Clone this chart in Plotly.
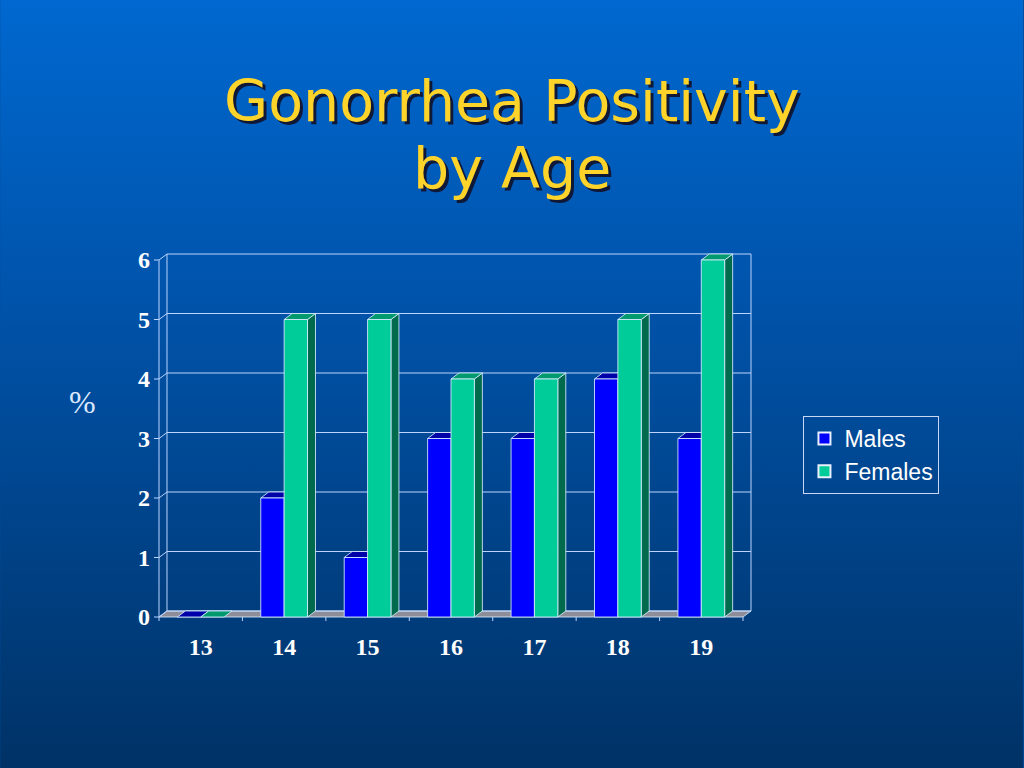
import base64
import plotly.graph_objects as go

# ---------------- data ----------------
ages = ["13", "14", "15", "16", "17", "18", "19"]
males = [0, 2, 1, 3, 3, 4, 3]
females = [0, 5, 5, 4, 4, 5, 6]
y_ticks = [0, 1, 2, 3, 4, 5, 6]
series_names = ["Males", "Females"]
title_lines = ["Gonorrhea Positivity", "by Age"]
y_label = "%"

# ---------------- styling / geometry ----------------
W, H = 1024, 768
UX, UY = 83.5, 59.5            # pixels per data unit
DX, DY = 8 / UX, 6 / UY         # 3-D depth offset in data units
BW = 0.28                       # bar width in category units
n = len(ages)
ymax = max(y_ticks)

x_lo = -0.5 - 6 / UX
x_hi = n - 0.5 + DX + 3 / UX
y_lo = -5 / UY
y_hi = ymax + DY + 3 / UY
left_px = 159 - 6
plot_w = (x_hi - x_lo) * UX
bottom_px = 617 + 5
plot_h = (y_hi - y_lo) * UY
M_L = left_px
M_R = W - left_px - plot_w
M_B = H - bottom_px
M_T = bottom_px - plot_h

EDGE = "rgba(215,235,255,0.85)"
WALL = "#bcd4ff"
colors = {
    "Males": dict(front="#0000FF", top="#0000A8", side="#00007A"),
    "Females": dict(front="#00CC99", top="#009A6E", side="#006A4C"),
}


def poly_path(polys):
    xs, ys = [], []
    for p in polys:
        for (a, b) in p + [p[0]]:
            xs.append(a)
            ys.append(b)
        xs.append(None)
        ys.append(None)
    return xs, ys


def seg_path(segs):
    xs, ys = [], []
    for (a, b), (c, d) in segs:
        xs += [a, c, None]
        ys += [b, d, None]
    return xs, ys


fig = go.Figure()

# floor
fx, fy = poly_path([[(-0.5, 0), (n - 0.5, 0), (n - 0.5 + DX, DY), (-0.5 + DX, DY)]])
fig.add_trace(go.Scatter(x=fx, y=fy, mode="lines", fill="toself", fillcolor="#8e8e98",
                         line=dict(color=EDGE, width=1), hoverinfo="skip", showlegend=False))

# walls and grid
segs = []
for k in y_ticks:
    segs.append(((-0.5 + DX, k + DY), (n - 0.5 + DX, k + DY)))      # back gridline
    segs.append(((-0.5, k), (-0.5 + DX, k + DY)))                    # left wall diagonal
    segs.append(((-0.5, k), (-0.5 - 5 / UX, k)))                     # y tick
segs.append(((-0.5 + DX, DY), (-0.5 + DX, ymax + DY)))
segs.append(((n - 0.5 + DX, DY), (n - 0.5 + DX, ymax + DY)))
segs.append(((-0.5, 0), (-0.5, ymax)))
for j in range(n + 1):
    segs.append(((j - 0.5, 0), (j - 0.5, -4 / UY)))                  # x ticks
wx, wy = seg_path(segs)
fig.add_trace(go.Scatter(x=wx, y=wy, mode="lines", line=dict(color=WALL, width=1),
                         hoverinfo="skip", showlegend=False))

# bars (3-D: side, top, front)
for name, vals, off in [("Males", males, -BW), ("Females", females, 0.0)]:
    sides, tops, fronts = [], [], []
    for i, v in enumerate(vals):
        x0 = i + off
        x1 = x0 + BW
        tops.append([(x0, v), (x1, v), (x1 + DX, v + DY), (x0 + DX, v + DY)])
        if v > 0:
            sides.append([(x1, 0), (x1, v), (x1 + DX, v + DY), (x1 + DX, DY)])
            fronts.append([(x0, 0), (x1, 0), (x1, v), (x0, v)])
    c = colors[name]
    for polys, col in [(sides, c["side"]), (tops, c["top"]), (fronts, c["front"])]:
        px_, py_ = poly_path(polys)
        fig.add_trace(go.Scatter(x=px_, y=py_, mode="lines", fill="toself", fillcolor=col,
                                 line=dict(color=EDGE, width=1), hoverinfo="skip",
                                 showlegend=False))
    # legend entry
    fig.add_trace(go.Scatter(x=[None], y=[None], mode="markers", name=name,
                             marker=dict(symbol="square", size=16, color=c["front"],
                                         line=dict(color="#e8f0ff", width=1))))

# background gradient
svg = ('<svg xmlns="http://www.w3.org/2000/svg" width="1024" height="768">'
       '<defs><linearGradient id="g" x1="0" y1="0" x2="0" y2="1">'
       '<stop offset="0" stop-color="#0068D0"/><stop offset="0.45" stop-color="#0050A4"/>'
       '<stop offset="1" stop-color="#003266"/></linearGradient></defs>'
       '<rect width="1024" height="768" fill="url(#g)"/></svg>')
src = "data:image/svg+xml;base64," + base64.b64encode(svg.encode()).decode()


def px_x(px):
    return (px - M_L) / plot_w


def px_y(py):
    return (bottom_px - py) / plot_h


fig.add_layout_image(dict(source=src, xref="paper", yref="paper", x=px_x(0), y=px_y(0),
                          sizex=W / plot_w, sizey=H / plot_h, xanchor="left", yanchor="top",
                          sizing="stretch", layer="below"))

# title with shadow
for line, cy in zip(title_lines, [101, 168]):
    for dxp, col in [(3, "#101838"), (0, "#FFD42A")]:
        fig.add_annotation(text=line, xref="paper", yref="paper", x=px_x(512 + dxp),
                           y=px_y(cy + dxp), xanchor="center", yanchor="middle",
                           showarrow=False,
                           font=dict(family="DejaVu Sans", size=57, color=col))

fig.add_annotation(text=y_label, xref="paper", yref="paper", x=px_x(82), y=px_y(402),
                   xanchor="center", yanchor="middle", showarrow=False,
                   font=dict(family="Liberation Serif", size=32, color="#dce8ff"))

fig.update_layout(
    width=W, height=H,
    margin=dict(l=M_L, r=M_R, t=M_T, b=M_B, pad=0),
    paper_bgcolor="#004C9C",
    plot_bgcolor="rgba(0,0,0,0)",
    xaxis=dict(range=[x_lo, x_hi], tickvals=list(range(n)), ticktext=ages, ticks="",
               showgrid=False, zeroline=False, showline=False, ticklabelstandoff=8,
               tickfont=dict(family="Liberation Serif", size=24, color="white", weight="bold")),
    yaxis=dict(range=[y_lo, y_hi], tickvals=y_ticks, ticktext=[str(t) for t in y_ticks],
               ticks="", showgrid=False, zeroline=False, showline=False, ticklabelstandoff=2,
               tickfont=dict(family="Liberation Serif", size=24, color="white", weight="bold")),
    legend=dict(x=px_x(804), y=px_y(416), xanchor="left", yanchor="top",
                bgcolor="rgba(0,0,0,0)", bordercolor="#c8d8f4", borderwidth=1,
                font=dict(family="Liberation Sans", size=23, color="white"),
                itemsizing="constant"),
    showlegend=True,
)

fig.write_html("out.html", config={"displayModeBar": False},
               post_script="document.body.style.margin='0';document.body.style.padding='0';"
                           "document.documentElement.style.overflow='hidden';")
